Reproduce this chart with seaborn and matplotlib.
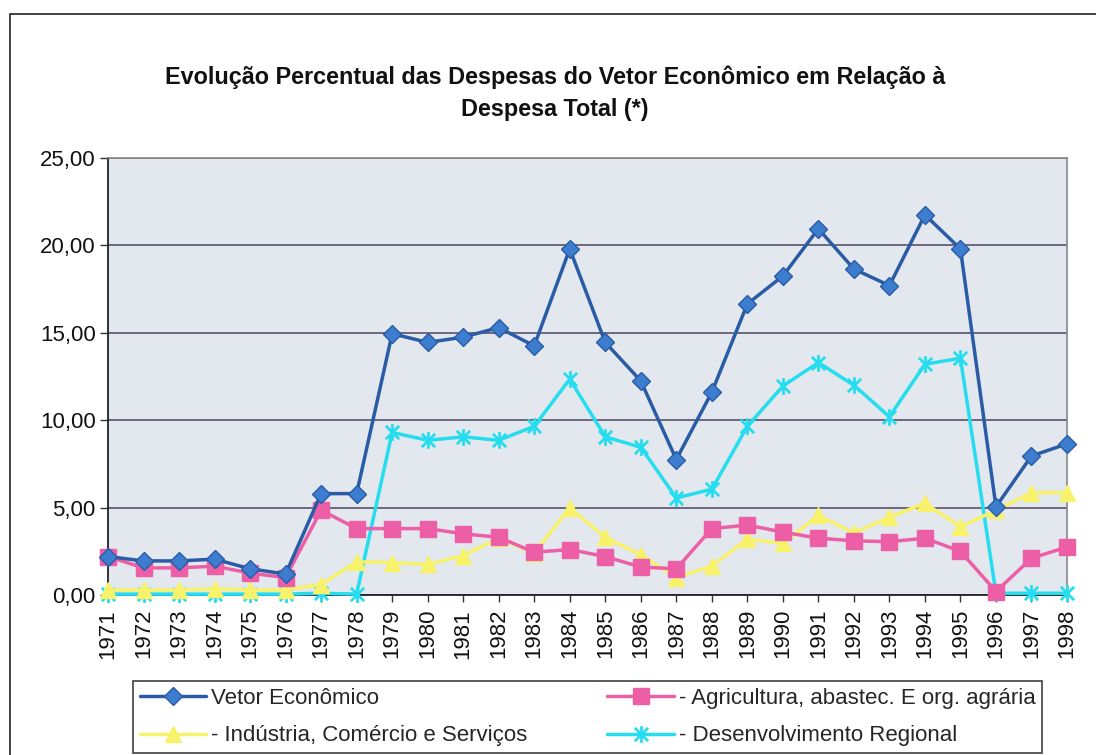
import numpy as np
import pandas as pd
import matplotlib
matplotlib.use("Agg")
import matplotlib.pyplot as plt
from matplotlib.path import Path
from matplotlib.patches import Rectangle
from matplotlib.ticker import FuncFormatter, FixedLocator
import seaborn as sns

# --- data -----------------------------------------------------------------
years = list(range(1971, 1999))

vetor_economico = [2.2, 1.95, 1.95, 2.05, 1.5, 1.2, 5.8, 5.8, 14.95, 14.45,
                   14.75, 15.3, 14.25, 19.8, 14.45, 12.25, 7.75, 11.6, 16.65,
                   18.25, 20.95, 18.65, 17.7, 21.75, 19.8, 5.05, 7.95, 8.65]

agricultura = [2.2, 1.55, 1.55, 1.65, 1.25, 1.0, 4.85, 3.8, 3.8, 3.8,
               3.5, 3.3, 2.45, 2.6, 2.2, 1.6, 1.5, 3.8, 4.0, 3.6,
               3.25, 3.1, 3.05, 3.25, 2.5, 0.2, 2.1, 2.75]

industria = [0.3, 0.3, 0.3, 0.35, 0.3, 0.3, 0.6, 1.9, 1.85, 1.75,
             2.25, 3.25, 2.4, 5.0, 3.3, 2.3, 1.0, 1.65, 3.2, 2.95,
             4.55, 3.55, 4.45, 5.25, 3.9, 4.85, 5.85, 5.85]

desenvolvimento = [0.05, 0.05, 0.05, 0.05, 0.05, 0.05, 0.1, 0.05, 9.3, 8.85,
                   9.05, 8.85, 9.65, 12.35, 9.05, 8.45, 5.55, 6.05, 9.65, 11.95,
                   13.3, 12.0, 10.2, 13.2, 13.55, 0.1, 0.1, 0.1]

labels = ["Vetor Econômico",
          "- Indústria, Comércio e Serviços",
          "- Agricultura, abastec. E org. agrária",
          "- Desenvolvimento Regional"]

title = ("Evolução Percentual das Despesas do Vetor Econômico em Relação à\n"
         "Despesa Total (*)")

y_ticks = [0, 5, 10, 15, 20, 25]

# --- style ----------------------------------------------------------------
sns.set_theme(style="white")
plt.rcParams["font.family"] = ["Liberation Sans", "DejaVu Sans"]

# Excel-style "star" marker: an x with a vertical bar through it
star = Path([(-1, -1), (1, 1), (-1, 1), (1, -1), (0, -1.25), (0, 1.25)],
            [Path.MOVETO, Path.LINETO, Path.MOVETO, Path.LINETO,
             Path.MOVETO, Path.LINETO])

fig = plt.figure(figsize=(10.96, 7.55), dpi=100)
fig.patch.set_facecolor("white")

W, H = 1096, 755
ax = fig.add_axes([108 / W, 1 - 595 / H, (1067 - 108) / W, (595 - 158) / H])
ax.set_facecolor("#E3E7EE")

df = pd.DataFrame({
    "ano": years,
    "vetor": vetor_economico,
    "agri": agricultura,
    "ind": industria,
    "des": desenvolvimento,
})

series = [
    # column, label, line colour, marker, marker size, face, edge, zorder
    ("vetor", labels[0], "#2A5CA6", "D", 9.0, "#3C7DD0", "#2A5CA6", 6),
    ("ind", labels[1], "#F7F26A", "^", 11.5, "#F7F26A", "#F7F26A", 4),
    ("agri", labels[2], "#EC5FA6", "s", 11.5, "#EC5FA6", "#EC5FA6", 5),
    ("des", labels[3], "#25DDEE", star, 12.0, "#25DDEE", "#25DDEE", 3),
]

for col, lab, color, mk, ms, fc, ec, z in series:
    sns.lineplot(data=df, x="ano", y=col, ax=ax, label=lab, color=color,
                 linewidth=2.5, marker=mk, markersize=ms,
                 markerfacecolor=fc, markeredgecolor=ec,
                 markeredgewidth=2.0 if mk is star else 1.0,
                 zorder=z, sort=False, errorbar=None, clip_on=False)

# --- axes -----------------------------------------------------------------
ax.set_xlim(1971, 1998)
ax.set_ylim(0, 25)
ax.set_xlabel("")
ax.set_ylabel("")

ax.yaxis.set_major_locator(FixedLocator(y_ticks))
ax.yaxis.set_major_formatter(FuncFormatter(lambda v, p: f"{v:.2f}".replace(".", ",")))
ax.set_xticks(years)
ax.set_xticklabels([str(y) for y in years], rotation=90)

ax.tick_params(axis="y", which="major", direction="out", length=6, width=1,
               color="#333333", labelsize=16, pad=3, labelcolor="#111111", left=True)
ax.tick_params(axis="x", which="major", direction="out", length=5, width=1,
               color="#333333", labelsize=16, pad=5, labelcolor="#111111", bottom=True)

ax.grid(axis="y", color="#4D4460", linewidth=1.1)
ax.grid(axis="x", visible=False)
ax.set_axisbelow(True)

for side in ("left", "bottom"):
    ax.spines[side].set_color("#222222")
    ax.spines[side].set_linewidth(1.3)
for side in ("top", "right"):
    ax.spines[side].set_color("#888888")
    ax.spines[side].set_linewidth(1.2)
    ax.spines[side].set_visible(True)

# --- title ----------------------------------------------------------------
fig.text(555 / W, 1 - 93 / H, title, ha="center", va="center",
         fontsize=16.8, fontweight="bold", linespacing=1.5, color="#111111")

# --- legend ---------------------------------------------------------------
handles, leg_labels = ax.get_legend_handles_labels()
ax.legend_.remove()
leg = fig.legend(handles, leg_labels, ncol=2, loc="lower left",
                 bbox_to_anchor=(133 / W, 1 - 753 / H, (1042 - 133) / W, 73 / H),
                 mode="expand", frameon=True, fancybox=False, fontsize=16,
                 handlelength=3.0, handletextpad=0.2, borderpad=0.3,
                 labelspacing=0.75, borderaxespad=0.0)
leg.get_frame().set_edgecolor("#111111")
leg.get_frame().set_linewidth(1.2)

# chart-area border
fig.add_artist(Rectangle((10 / W, -0.05), 1.2, 1 - 14 / H + 0.05,
                         transform=fig.transFigure, fill=False,
                         edgecolor="#222222", linewidth=1.2))

fig.savefig("out.png", dpi=100, facecolor="white")
